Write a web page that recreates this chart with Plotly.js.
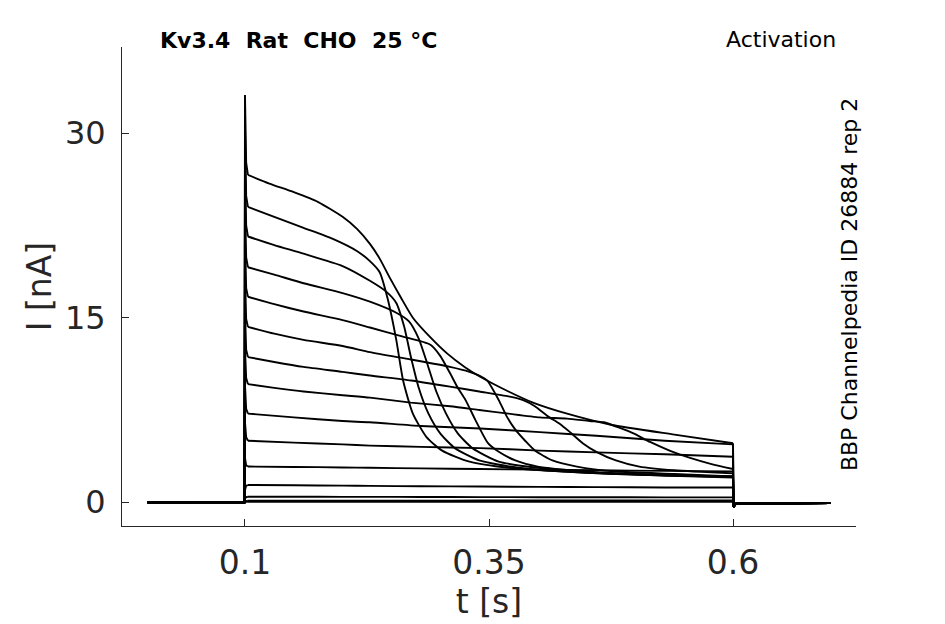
<!DOCTYPE html>
<html>
<head>
<meta charset="utf-8">
<script src="https://cdn.plot.ly/plotly-3.0.1.min.js"></script>
<style>html,body{margin:0;padding:0;background:#fff;}#chart{width:945px;height:624px;}</style>
</head>
<body>
<div id="chart"></div>
<script>
// ---- data ----
const tHead = [0, 0.0995];
const iHead = [0, 0];
const tTail = [0.6005, 0.603, 0.7];
const iTail = [-0.38, -0.12, -0.06];

const t1 = [0.1, 0.1012, 0.103, 0.125, 0.15, 0.175, 0.2, 0.215, 0.228, 0.238, 0.248, 0.26, 0.272, 0.29, 0.307, 0.325, 0.341, 0.37, 0.395, 0.43, 0.475, 0.54, 0.6];
const i1 = [33.1, 27.6, 26.6, 25.9, 25.2, 24.4, 23.2, 22.2, 21.0, 19.8, 18.3, 16.6, 15.0, 13.4, 12.1, 11.0, 10.2, 9.0, 8.1, 7.2, 6.3, 5.5, 4.8];

const t2 = [0.1, 0.1012, 0.103, 0.13, 0.16, 0.19, 0.215, 0.228, 0.238, 0.246, 0.255, 0.262, 0.272, 0.286, 0.302, 0.33, 0.37, 0.45, 0.53, 0.6];
const i2 = [30.5, 24.9, 24.0, 23.2, 22.3, 21.4, 20.4, 19.6, 18.7, 16.6, 13.2, 9.9, 7.2, 5.3, 4.2, 3.3, 2.8, 2.4, 2.2, 2.1];

const t3 = [0.1, 0.1012, 0.103, 0.13, 0.16, 0.2, 0.228, 0.245, 0.255, 0.263, 0.27, 0.278, 0.288, 0.3, 0.315, 0.34, 0.38, 0.45, 0.53, 0.6];
const i3 = [28.0, 22.5, 21.6, 20.9, 20.2, 19.2, 18.0, 17.1, 16.2, 14.3, 11.8, 9.3, 7.2, 5.6, 4.4, 3.4, 2.8, 2.4, 2.2, 2.1];

const t4 = [0.1, 0.1012, 0.103, 0.13, 0.16, 0.2, 0.228, 0.255, 0.268, 0.278, 0.287, 0.296, 0.306, 0.318, 0.333, 0.36, 0.4, 0.46, 0.53, 0.6];
const i4 = [24.5, 19.9, 19.1, 18.5, 17.8, 17.0, 16.3, 15.4, 14.7, 13.3, 11.2, 9.0, 7.2, 5.6, 4.4, 3.3, 2.8, 2.4, 2.2, 2.05];

const t5 = [0.1, 0.1012, 0.103, 0.13, 0.16, 0.2, 0.228, 0.26, 0.29, 0.3, 0.31, 0.318, 0.326, 0.336, 0.349, 0.36, 0.377, 0.4, 0.45, 0.52, 0.6];
const i5 = [21.5, 17.4, 16.7, 16.1, 15.5, 14.8, 14.2, 13.5, 12.8, 11.9, 10.5, 9.3, 8.3, 6.7, 4.8, 4.1, 3.4, 2.9, 2.5, 2.2, 2.0];

const t6 = [0.1, 0.1012, 0.103, 0.13, 0.16, 0.2, 0.228, 0.27, 0.31, 0.33, 0.34, 0.348, 0.36, 0.368, 0.377, 0.387, 0.397, 0.415, 0.44, 0.48, 0.54, 0.6];
const i6 = [18.5, 14.9, 14.25, 13.7, 13.2, 12.7, 12.2, 11.6, 11.0, 10.6, 10.3, 9.9, 8.3, 7.0, 5.9, 5.0, 4.2, 3.4, 2.9, 2.5, 2.3, 2.1];

const t7 = [0.1, 0.1012, 0.103, 0.13, 0.16, 0.2, 0.228, 0.27, 0.31, 0.34, 0.37, 0.385, 0.397, 0.41, 0.422, 0.433, 0.446, 0.46, 0.48, 0.504, 0.54, 0.6];
const i7 = [15.5, 12.4, 11.8, 11.4, 11.0, 10.6, 10.3, 9.9, 9.4, 9.0, 8.6, 8.3, 7.8, 7.0, 6.4, 5.7, 4.8, 4.1, 3.4, 2.9, 2.6, 2.35];

const t8 = [0.1, 0.1012, 0.103, 0.13, 0.16, 0.2, 0.228, 0.27, 0.31, 0.34, 0.37, 0.402, 0.43, 0.453, 0.468, 0.482, 0.498, 0.515, 0.535, 0.556, 0.578, 0.6];
const i8 = [12.5, 10.1, 9.6, 9.3, 9.0, 8.7, 8.5, 8.1, 7.8, 7.5, 7.2, 6.9, 6.8, 6.6, 6.5, 6.1, 5.6, 4.9, 4.2, 3.6, 3.1, 2.7];

const tFlat = [0.1, 0.1012, 0.103, 0.15, 0.2, 0.228, 0.28, 0.341, 0.402, 0.46, 0.53, 0.6];
const i9  = [9.5, 7.6, 7.2, 6.9, 6.6, 6.5, 6.2, 6.0, 5.7, 5.4, 5.0, 4.7];
const i10 = [6.5, 5.3, 5.0, 4.85, 4.7, 4.6, 4.5, 4.4, 4.2, 4.05, 3.9, 3.7];
const i11 = [3.6, 3.0, 2.9, 2.87, 2.83, 2.8, 2.75, 2.7, 2.65, 2.6, 2.55, 2.5];
const i12 = [1.0, 1.35, 1.4, 1.38, 1.35, 1.33, 1.3, 1.28, 1.25, 1.23, 1.2, 1.2];
const i13 = [0.3, 0.42, 0.45, 0.45, 0.44, 0.44, 0.43, 0.42, 0.41, 0.41, 0.4, 0.4];
const i14 = [0.08, 0.11, 0.12, 0.12, 0.13, 0.13, 0.13, 0.14, 0.14, 0.15, 0.15, 0.15];
const i15 = [0.02, 0.03, 0.03, 0.03, 0.03, 0.03, 0.03, 0.03, 0.03, 0.03, 0.03, 0.03];

const xTickVals = [0.1, 0.35, 0.6];
const xTickText = ['0.1', '0.35', '0.6'];
const yTickVals = [0, 15, 30];
const yTickText = ['0', '15', '30'];

const titleText = 'Kv3.4\u00a0\u00a0Rat\u00a0\u00a0CHO\u00a0\u00a025\u00a0°C';
const protocolText = 'Activation';
const sourceText = 'BBP Channelpedia ID 26884 rep 2';

// ---- build traces ----
// each sweep: straight baseline + step (linear), smooth pulse body (spline), straight tail (linear)
const series = [
  [t1, i1], [t2, i2], [t3, i3], [t4, i4], [t5, i5], [t6, i6], [t7, i7], [t8, i8],
  [tFlat, i9], [tFlat, i10], [tFlat, i11], [tFlat, i12], [tFlat, i13], [tFlat, i14], [tFlat, i15]
];
const lineStyle = {color: '#000000', width: 1.9};
const data = [];
series.forEach(([t, v]) => {
  const n = t.length;
  data.push({
    type: 'scatter', mode: 'lines',
    x: tHead.concat(t.slice(0, 3)), y: iHead.concat(v.slice(0, 3)),
    line: lineStyle, hoverinfo: 'skip', showlegend: false
  });
  data.push({
    type: 'scatter', mode: 'lines',
    x: t.slice(2), y: v.slice(2),
    line: Object.assign({shape: 'spline', smoothing: 0.6}, lineStyle),
    hoverinfo: 'skip', showlegend: false
  });
  data.push({
    type: 'scatter', mode: 'lines',
    x: [t[n - 1]].concat(tTail), y: [v[n - 1]].concat(iTail),
    line: lineStyle, hoverinfo: 'skip', showlegend: false
  });
});

const axisColor = '#262626';
const layout = {
  width: 945,
  height: 624,
  margin: {l: 122, r: 89, t: 47, b: 98},
  paper_bgcolor: '#ffffff',
  plot_bgcolor: '#ffffff',
  font: {family: 'DejaVu Sans, sans-serif', color: axisColor},
  showlegend: false,
  xaxis: {
    range: [-0.026, 0.726],
    tickmode: 'array', tickvals: xTickVals, ticktext: xTickText,
    ticks: 'inside', ticklen: 7, tickwidth: 1, tickcolor: axisColor,
    showline: true, linecolor: axisColor, linewidth: 1,
    showgrid: false, zeroline: false,
    tickfont: {size: 33, color: axisColor},
    ticklabelstandoff: 7,
    title: {text: 't [s]', font: {size: 33, color: axisColor}, standoff: 6},
    automargin: false
  },
  yaxis: {
    range: [-1.93, 37.0],
    tickmode: 'array', tickvals: yTickVals, ticktext: yTickText,
    ticks: 'inside', ticklen: 7, tickwidth: 1, tickcolor: axisColor,
    showline: true, linecolor: axisColor, linewidth: 1,
    showgrid: false, zeroline: false,
    tickfont: {size: 32, color: axisColor},
    ticklabelstandoff: 9,
    title: {text: 'I [nA]', font: {size: 33, color: axisColor}, standoff: 3},
    automargin: false
  },
  annotations: [
    {xref: 'paper', yref: 'paper', x: 0.049, y: 1.0146, xanchor: 'left', yanchor: 'middle',
     text: '<b>' + titleText + '</b>', showarrow: false, font: {size: 22, color: '#000000'}},
    {xref: 'paper', yref: 'paper', x: 0.9755, y: 1.0167, xanchor: 'right', yanchor: 'middle',
     text: protocolText, showarrow: false, font: {size: 22, color: '#000000'}},
    {xref: 'paper', yref: 'paper', x: 0.9905, y: 0.503, xanchor: 'center', yanchor: 'middle',
     text: sourceText, textangle: -90, showarrow: false, font: {size: 22, color: '#000000'}}
  ]
};

Plotly.newPlot('chart', data, layout, {displayModeBar: false, staticPlot: true});
</script>
</body>
</html>
